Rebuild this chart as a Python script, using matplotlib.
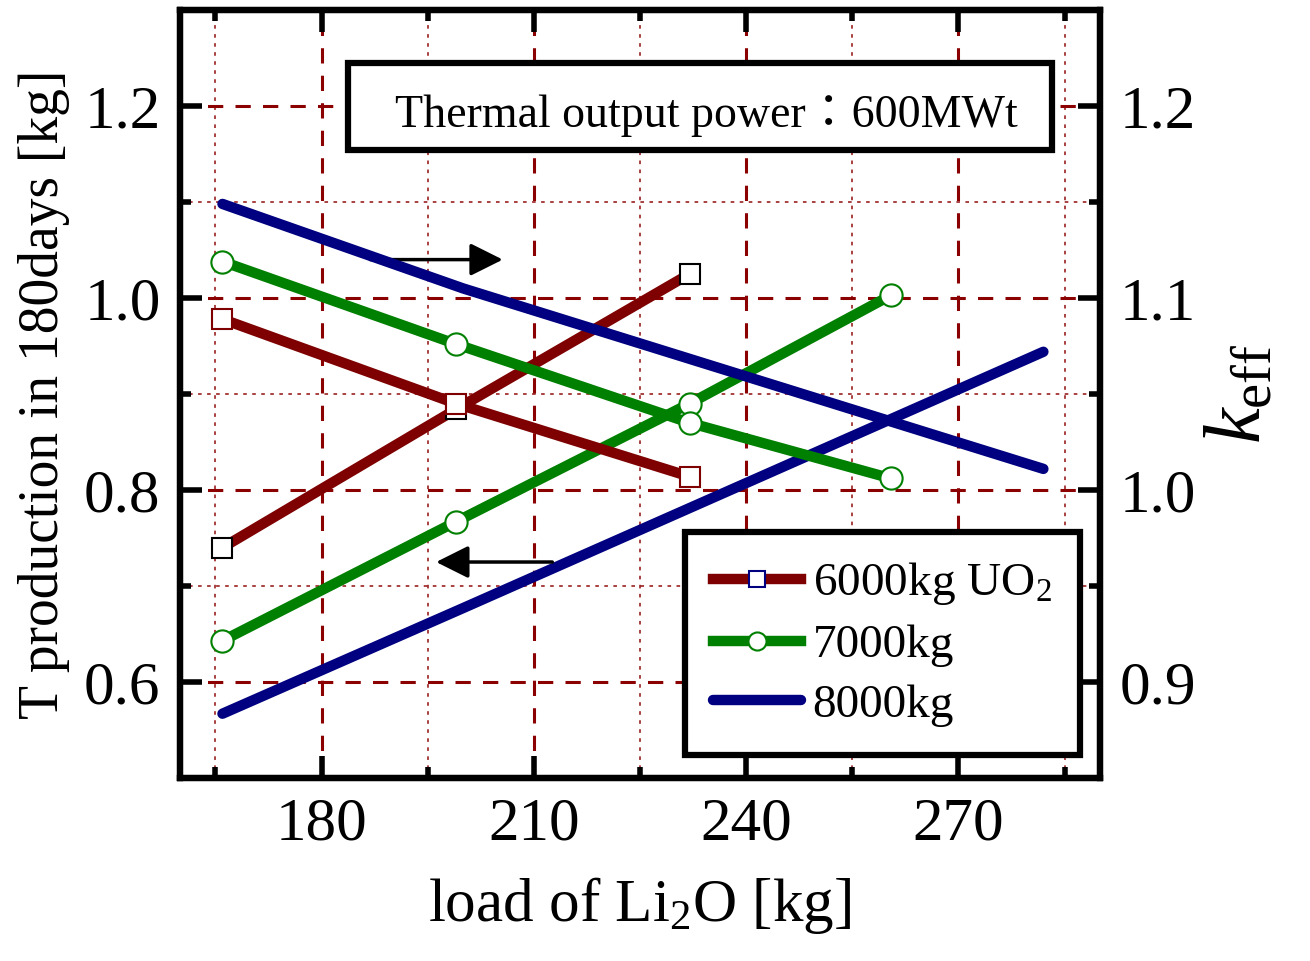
import matplotlib
matplotlib.use("Agg")
from matplotlib import pyplot as plt
from matplotlib.patches import Rectangle
from matplotlib.ticker import MultipleLocator

plt.rcParams['font.family'] = ['Liberation Serif', 'Noto Sans CJK JP', 'DejaVu Serif']
plt.rcParams['mathtext.fontset'] = 'custom'
plt.rcParams['mathtext.rm'] = 'Liberation Serif'
plt.rcParams['mathtext.it'] = 'Liberation Serif:italic'

# 6000kg UO2
x6 = [166, 199, 232]
t6 = [0.740, 0.884, 1.025]
k6 = [1.089, 1.045, 1.007]

# 7000kg
x7 = [166, 199, 232, 260.5]
t7 = [0.643, 0.767, 0.890, 1.003]
k7 = [1.119, 1.076, 1.035, 1.006]

# 8000kg
x8 = [166, 200, 282]
t8 = [0.567, 0.677, 0.944]
k8 = [1.149, 1.105, 1.011]

red = '#7f0000'
green = '#008000'
navy = '#000080'
grid_c = '#8b0000'

fig = plt.figure(figsize=(13.1, 9.61), dpi=100)
ax = fig.add_axes([0.1374, 0.1904, 0.7023, 0.7992])
ax2 = ax.twinx()

lw = 7.5
ax.plot(x6, t6, color=red, lw=lw, marker='s', ms=14, mfc='white', mec='black', mew=1.5, zorder=3)
ax2.plot(x6, k6, color=red, lw=lw, marker='s', ms=14, mfc='white', mec=red, mew=1.5, zorder=3)
ax.plot(x7, t7, color=green, lw=lw, marker='o', ms=16, mfc='white', mec=green, mew=1.5, zorder=3)
ax2.plot(x7, k7, color=green, lw=lw, marker='o', ms=16, mfc='white', mec=green, mew=1.5, zorder=3)
ax.plot(x8, t8, color=navy, lw=lw, solid_capstyle='round', zorder=3)
ax2.plot(x8, k8, color=navy, lw=lw, solid_capstyle='round', zorder=3)

ax.set_xlim(160, 290)
ax.set_ylim(0.5, 1.3)
ax2.set_ylim(0.85, 1.25)

ax.xaxis.set_major_locator(MultipleLocator(30))
ax.xaxis.set_minor_locator(MultipleLocator(15))
ax.yaxis.set_major_locator(MultipleLocator(0.2))
ax.yaxis.set_minor_locator(MultipleLocator(0.1))
ax2.yaxis.set_major_locator(MultipleLocator(0.1))
ax2.yaxis.set_minor_locator(MultipleLocator(0.05))
ax.yaxis.set_major_formatter(plt.FormatStrFormatter('%.1f'))
ax2.yaxis.set_major_formatter(plt.FormatStrFormatter('%.1f'))

ax.grid(True, which='major', color=grid_c, ls=(0, (5, 4)), lw=2.2)
ax.grid(True, which='minor', color=grid_c, ls=(0, (2, 3)), lw=1.3, alpha=0.8)
ax.set_axisbelow(True)

ax.tick_params(which='both', direction='in', top=True, right=False, width=4,
               labelsize=44, pad=14)
ax.tick_params(which='major', length=16)
ax.tick_params(which='minor', length=8)
ax2.tick_params(which='both', direction='in', width=4, labelsize=44, pad=14)
ax2.tick_params(which='major', length=16)
ax2.tick_params(which='minor', length=8)

for a in (ax, ax2):
    for s in a.spines.values():
        s.set_linewidth(4.5)

ax.set_xlabel('load of Li$_2$O [kg]', fontsize=44, labelpad=16)
ax.set_ylabel('T production in 180days [kg]', fontsize=40, labelpad=10)
ax2.set_ylabel('$k_{\\rm eff}$', fontsize=58, labelpad=6)

# arrows
ax.annotate('', xy=(206, 1.04), xytext=(186.5, 1.04),
            arrowprops=dict(arrowstyle='-|>', color='black', lw=2.5, mutation_scale=50), zorder=4)
ax.annotate('', xy=(195.8, 0.725), xytext=(213, 0.725),
            arrowprops=dict(arrowstyle='-|>', color='black', lw=2.5, mutation_scale=50), zorder=4)

# text box
ax2.add_patch(Rectangle((0.1826, 0.8177), 0.7652, 0.1133, transform=ax2.transAxes,
                        facecolor='white', edgecolor='black', lw=4.5, zorder=5))
ax2.text(0.572, 0.862, 'Thermal output power\uff1a600MWt', transform=ax2.transAxes,
         ha='center', va='center', fontsize=33, zorder=6)

# legend
h1, = ax2.plot([], [], color=red, lw=lw, marker='s', ms=12, mfc='white', mec=navy, mew=1.5)
h2, = ax2.plot([], [], color=green, lw=lw, marker='o', ms=13, mfc='white', mec=green, mew=1.5)
h3, = ax2.plot([], [], color=navy, lw=lw, solid_capstyle='round')
leg = ax2.legend([h1, h2, h3], ['6000kg UO$_2$', '7000kg', '8000kg'],
                 loc='lower right', bbox_to_anchor=(0.978, 0.030), borderaxespad=0,
                 fontsize=34, fancybox=False, framealpha=1, edgecolor='black',
                 handlelength=1.85, handletextpad=0.25, borderpad=0.6, labelspacing=0.35,
                 numpoints=1)
leg.get_frame().set_linewidth(4.5)
leg.set_zorder(7)

fig.savefig('out.png', dpi=100)
